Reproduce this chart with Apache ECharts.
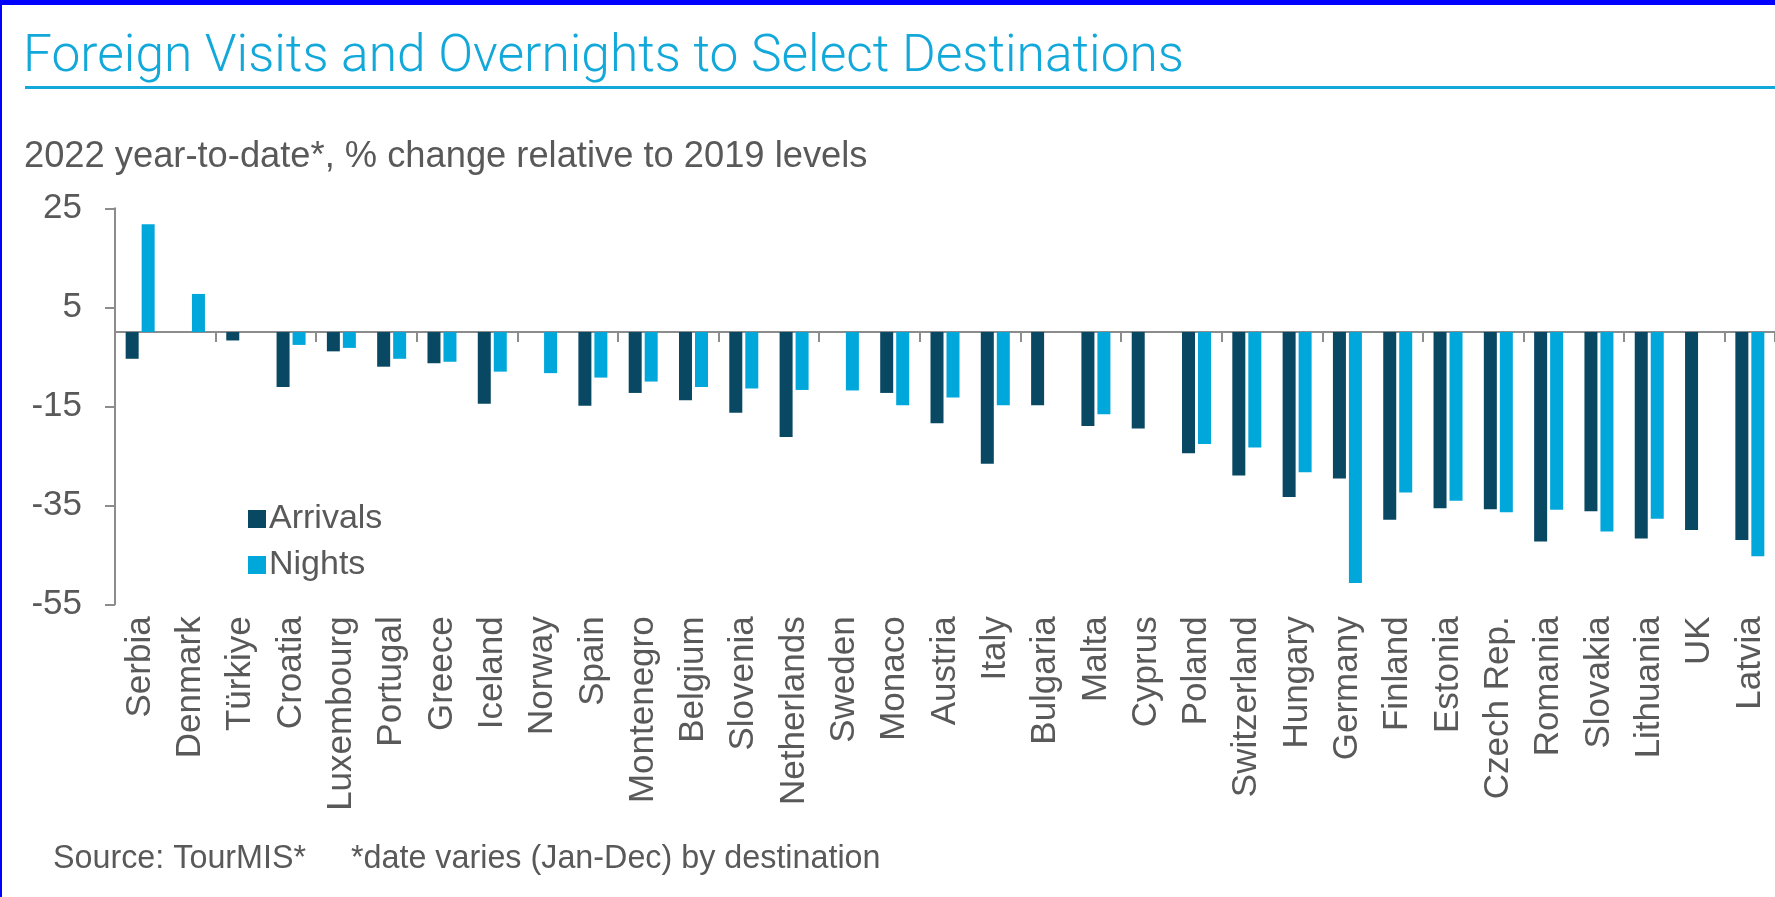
<!DOCTYPE html>
<html lang="en">
<head>
  <meta charset="UTF-8">
  <title>Foreign Visits and Overnights to Select Destinations</title>
  <script src="https://cdn.jsdelivr.net/npm/echarts@6/dist/echarts.min.js"></script>
  <style>
    html, body { margin: 0; padding: 0; background: #fff; }
    #wrap { position: relative; width: 1775px; height: 897px; }
    #demo1 { width: 1775px; height: 897px; }
    #frame { position: absolute; left: 0; top: 0; right: 0; bottom: 0;
             border-top: 5px solid #0000ff; border-left: 2px solid #0000ff; pointer-events: none; }
  </style>
</head>
<body>
  <div id="wrap">
    <div id="demo1"></div>
    <div id="frame"></div>
  </div>

  <script>
    // categories
    let countries = ['Serbia', 'Denmark', 'Türkiye', 'Croatia', 'Luxembourg', 'Portugal', 'Greece', 'Iceland',
      'Norway', 'Spain', 'Montenegro', 'Belgium', 'Slovenia', 'Netherlands', 'Sweden', 'Monaco', 'Austria',
      'Italy', 'Bulgaria', 'Malta', 'Cyprus', 'Poland', 'Switzerland', 'Hungary', 'Germany', 'Finland',
      'Estonia', 'Czech Rep.', 'Romania', 'Slovakia', 'Lithuania', 'UK', 'Latvia']
    // % change vs 2019 (null = no data)
    let arrivals = [-5.4, null, -1.7, -11.1, -3.9, -7.0, -6.3, -14.5,
      null, -14.9, -12.3, -13.8, -16.3, -21.2, null, -12.3, -18.4,
      -26.6, -14.8, -19.0, -19.5, -24.5, -29.0, -33.3, -29.6, -37.9,
      -35.6, -35.8, -42.3, -36.2, -41.7, -40.0, -42.0]
    let nights = [21.8, 7.7, null, -2.6, -3.2, -5.4, -6.0, -8.0,
      -8.3, -9.2, -10.0, -11.1, -11.4, -11.7, -11.8, -14.8, -13.2,
      -14.8, null, -16.6, null, -22.6, -23.3, -28.3, -50.7, -32.4,
      -34.1, -36.4, -35.9, -40.3, -37.7, null, -45.3]
    // y axis ticks
    let yTicks = [-55, -35, -15, 5, 25]

    let font = '"Liberation Sans", Arial, sans-serif'
    let grey = '#595959'
    let axisGrey = '#8c8c8c'

    let myChart = echarts.init(document.querySelector('#demo1'))

    let options = {
      animation: false,
      textStyle: { fontFamily: font },
      title: [{
        text: 'Foreign Visits and Overnights to Select Destinations',
        left: 23,
        top: 32,
        padding: 0,
        textStyle: { fontFamily: 'Roboto, "Liberation Sans", sans-serif', fontWeight: 300, fontSize: 51.5, color: '#12a8da' }
      }, {
        text: '2022 year-to-date*, % change relative to 2019 levels',
        left: 24,
        top: 139,
        padding: 0,
        textStyle: { fontFamily: font, fontWeight: 'normal', fontSize: 36.3, color: grey }
      }, {
        text: 'Source: TourMIS*     *date varies (Jan-Dec) by destination',
        left: 53,
        top: 843,
        padding: 0,
        textStyle: { fontFamily: font, fontWeight: 'normal', fontSize: 32.3, color: grey }
      }],
      graphic: [{
        type: 'line',
        shape: { x1: 25, y1: 87.5, x2: 1775, y2: 87.5 },
        style: { stroke: '#14a8da', lineWidth: 3 }
      }],
      legend: {
        orient: 'vertical',
        left: 248,
        top: 502,
        padding: 0,
        itemWidth: 18,
        itemHeight: 18,
        itemGap: 12,
        icon: 'rect',
        textStyle: { fontFamily: font, fontSize: 34, color: grey, padding: [0, 0, 0, -2] },
        data: ['Arrivals', 'Nights']
      },
      grid: {
        left: 115,
        right: 0,
        top: 208.3,
        bottom: 292.7
      },
      xAxis: [{
        type: 'category',
        data: countries,
        position: 'bottom',
        axisLine: { show: false, onZero: false },
        axisTick: { show: false },
        axisLabel: { rotate: 90, margin: 12, fontSize: 35, color: grey, fontFamily: font, interval: 0 }
      }, {
        type: 'category',
        data: countries,
        position: 'top',
        axisLine: { show: true, onZero: true, lineStyle: { color: axisGrey, width: 2 } },
        axisTick: { show: true, inside: true, length: 10, lineStyle: { color: axisGrey, width: 2 } },
        axisLabel: { show: false }
      }],
      yAxis: {
        type: 'value',
        min: -55,
        max: 25,
        interval: 20,
        splitLine: { show: false },
        axisLine: { show: true, onZero: false, lineStyle: { color: axisGrey, width: 2 } },
        axisTick: { show: true, length: 10, lineStyle: { color: axisGrey, width: 2 }, customValues: yTicks },
        axisLabel: { margin: 33, fontSize: 35, color: grey, fontFamily: font, customValues: yTicks }
      },
      series: [{
        name: 'Arrivals',
        type: 'bar',
        xAxisIndex: 0,
        data: arrivals,
        barWidth: 13,
        barGap: '23%',
        itemStyle: { color: '#084862' }
      }, {
        name: 'Nights',
        type: 'bar',
        xAxisIndex: 0,
        data: nights,
        barWidth: 13,
        barGap: '23%',
        itemStyle: { color: '#00a7db' }
      }]
    }
    myChart.setOption(options)
  </script>
</body>
</html>
